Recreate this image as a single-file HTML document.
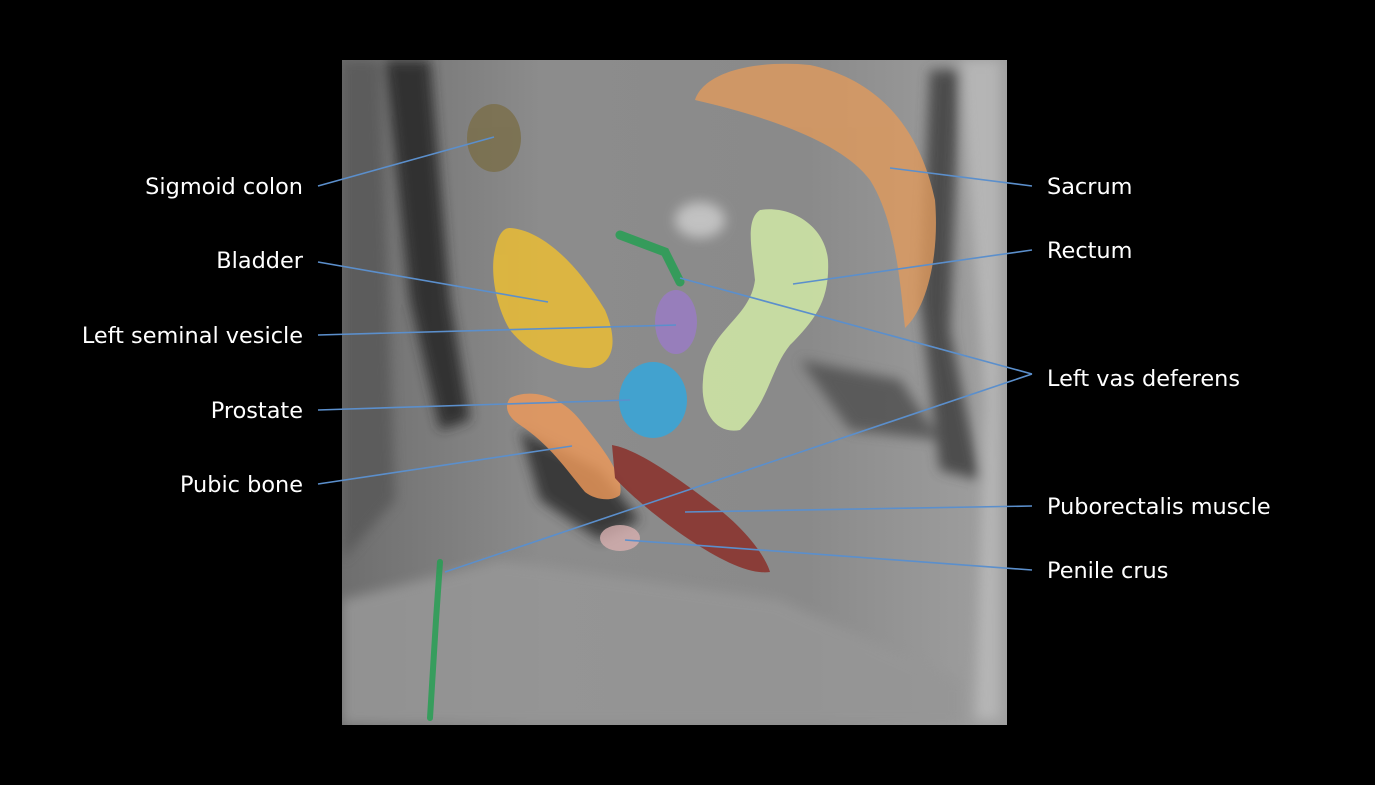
<!DOCTYPE html>
<html><head><meta charset="utf-8"><style>
html,body{margin:0;padding:0;background:#000;width:1375px;height:785px;overflow:hidden}
svg{display:block}
text{font-family:"DejaVu Sans","Liberation Sans",sans-serif;font-size:22.4px;fill:#fff}
</style></head><body>
<svg width="1375" height="785" viewBox="0 0 1375 785">
<defs>
<linearGradient id="bg" x1="0" y1="0" x2="1" y2="0">
<stop offset="0" stop-color="#6e6e6e"/><stop offset="0.3" stop-color="#8c8c8c"/><stop offset="0.7" stop-color="#8a8a8a"/><stop offset="1" stop-color="#a0a0a0"/>
</linearGradient>
<filter id="bl"><feGaussianBlur stdDeviation="6"/></filter>
<clipPath id="cp"><rect x="342" y="60" width="665" height="665"/></clipPath>
</defs>
<rect x="342" y="60" width="665" height="665" fill="url(#bg)"/>
<g filter="url(#bl)" opacity="0.9" clip-path="url(#cp)">
<path d="M385 60 L430 60 L450 300 L470 420 L440 430 L410 300 Z" fill="#2a2a2a"/>
<path d="M342 60 L380 60 L395 500 L342 560 Z" fill="#5a5a5a"/>
<path d="M930 70 L960 70 L950 330 L980 480 L940 470 L920 300 Z" fill="#444"/>
<path d="M960 60 L1000 60 L1000 720 L975 720 L985 400 Z" fill="#b8b8b8"/>
<path d="M520 430 L600 470 L640 520 L600 540 L540 500 Z" fill="#333"/>
<path d="M800 360 L900 380 L940 440 L850 430 Z" fill="#555"/>
<ellipse cx="700" cy="220" rx="25" ry="18" fill="#c8c8c8"/>
<path d="M342 600 L500 560 L780 600 L960 680 L960 725 L342 725 Z" fill="#969696"/>
</g>
<g opacity="0.8">
<ellipse cx="494" cy="138" rx="27" ry="34" fill="#7a6e48"/>
<path d="M695 100 C705 70 760 60 810 65 C880 80 920 130 935 200 C940 260 925 310 905 328 C900 280 895 220 870 180 C840 140 760 115 695 100 Z" fill="#e09a5c"/>
<path d="M760 210 C790 205 825 225 828 260 C830 300 815 320 790 345 C770 370 770 400 740 430 C715 435 700 410 703 380 C706 330 750 320 755 280 C752 250 745 220 760 210 Z" fill="#d6f0a8"/>
<path d="M510 228 C540 230 575 260 605 310 C618 340 615 365 590 368 C560 368 530 355 510 330 C495 305 490 270 495 250 C498 235 503 228 510 228 Z" fill="#f0c030"/>
<ellipse cx="676" cy="322" rx="21" ry="32" fill="#9a7cc8"/>
<ellipse cx="653" cy="400" rx="34" ry="38" fill="#30a8e0"/>
<path d="M510 398 C530 388 560 395 580 420 C600 445 625 475 620 495 C612 502 595 500 585 492 C565 468 550 445 520 425 C505 415 505 405 510 398 Z" fill="#f09a5a"/>
<path d="M612 445 C640 450 680 480 720 510 C745 530 765 555 770 572 C750 575 720 560 690 540 C660 520 630 495 615 478 Z" fill="#8a2a24"/>
<ellipse cx="620" cy="538" rx="20" ry="13" fill="#d8b0b0"/>
<path d="M620 235 L665 252 L680 282" fill="none" stroke="#20a050" stroke-width="9" stroke-linecap="round"/>
<path d="M440 562 L436 620 L430 718" fill="none" stroke="#20a050" stroke-width="6" stroke-linecap="round"/>
</g>
<g stroke="#5b8fcc" stroke-width="1.6" fill="none">
<line x1="318" y1="186" x2="494" y2="137"/>
<line x1="318" y1="262" x2="548" y2="302"/>
<line x1="318" y1="335" x2="676" y2="325"/>
<line x1="318" y1="410" x2="630" y2="400"/>
<line x1="318" y1="484" x2="572" y2="446"/>
<line x1="1032" y1="186" x2="890" y2="168"/>
<line x1="1032" y1="250" x2="793" y2="284"/>
<line x1="1032" y1="374" x2="680" y2="278"/>
<line x1="1032" y1="374" x2="445" y2="572"/>
<line x1="1032" y1="506" x2="685" y2="512"/>
<line x1="1032" y1="570" x2="625" y2="540"/>
</g>
<g text-anchor="end">
<text x="303" y="194">Sigmoid colon</text>
<text x="303" y="268">Bladder</text>
<text x="303" y="343">Left seminal vesicle</text>
<text x="303" y="418">Prostate</text>
<text x="303" y="492">Pubic bone</text>
</g>
<text x="1047" y="194">Sacrum</text>
<text x="1047" y="258">Rectum</text>
<text x="1047" y="386">Left vas deferens</text>
<text x="1047" y="514">Puborectalis muscle</text>
<text x="1047" y="578">Penile crus</text>
</svg>
</body></html>
